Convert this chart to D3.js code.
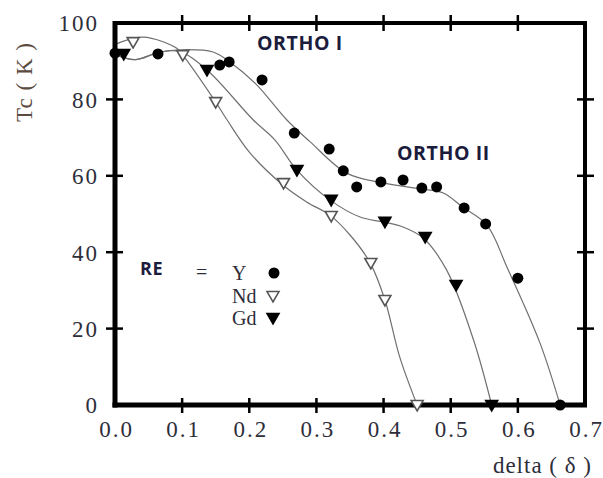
<!DOCTYPE html>
<html>
<head>
<meta charset="utf-8">
<script src="https://d3js.org/d3.v7.min.js"></script>
<style>
  body { margin: 0; background: #fff; }
  text.num { font-family: "Liberation Serif", serif; font-size: 23px; fill: #2e2e3a; letter-spacing: 2px; }
  text.ortho { font-family: "Open Sans", sans-serif; font-weight: bold; font-size: 19.5px; fill: #1c1c3c; letter-spacing: 0.6px; }
</style>
</head>
<body>
<svg width="603" height="478"></svg>
<script>
// measured points (delta, Tc)
const yDelta  = [0.0, 0.064, 0.156, 0.170, 0.219, 0.267, 0.319, 0.340, 0.360, 0.396, 0.429, 0.457, 0.479, 0.520, 0.552, 0.600, 0.663];
const yTc     = [92.1, 91.9, 89.0, 89.8, 85.1, 71.2, 67.0, 61.3, 57.1, 58.4, 58.9, 56.8, 57.1, 51.6, 47.4, 33.2, 0];
const ndDelta = [0.027, 0.101, 0.150, 0.251, 0.322, 0.381, 0.402, 0.450];
const ndTc    = [95.0, 91.6, 79.3, 58.1, 49.5, 37.2, 27.5, 0];
const gdDelta = [0.013, 0.137, 0.271, 0.322, 0.402, 0.462, 0.508, 0.561];
const gdTc    = [91.9, 87.7, 61.5, 53.7, 48.0, 44.0, 31.4, 0];

// fitted guide curves
const yFitDelta  = [0.0, 0.03, 0.065, 0.10, 0.146, 0.171, 0.21, 0.256, 0.29, 0.345, 0.40, 0.459, 0.489, 0.518, 0.554, 0.584, 0.633, 0.663];
const yFitTc     = [91.8, 90.4, 92.3, 93.0, 92.4, 89.8, 84.0, 74.6, 69.0, 60.7, 58.1, 56.5, 55.5, 51.8, 47.1, 36.0, 16.2, 0];
const ndFitDelta = [0.0, 0.042, 0.092, 0.101, 0.150, 0.167, 0.201, 0.25, 0.286, 0.32, 0.35, 0.38, 0.402, 0.424, 0.45];
const ndFitTc    = [94.4, 96.3, 93.4, 91.6, 79.3, 74.6, 66.0, 57.6, 53.1, 49.7, 44.5, 37.2, 27.5, 12.6, 0];
const gdFitDelta = [0.0, 0.03, 0.065, 0.095, 0.137, 0.206, 0.238, 0.271, 0.32, 0.365, 0.40, 0.429, 0.459, 0.494, 0.534, 0.561];
const gdFitTc    = [91.8, 90.4, 92.3, 92.6, 87.7, 74.6, 69.4, 61.5, 53.7, 49.2, 47.9, 46.6, 43.7, 35.3, 17.0, 0];

const xTicks = [0.0, 0.1, 0.2, 0.3, 0.4, 0.5, 0.6, 0.7];
const yTicks = [0, 20, 40, 60, 80, 100];
const legendNames = ["Y", "Nd", "Gd"];

const svg = d3.select("svg");
const pLeft = 115, pRight = 585, pTop = 23, pBottom = 405;

const x = d3.scaleLinear().domain([0, 0.7]).range([pLeft, pRight]);
const y = d3.scaleLinear().domain([0, 100]).range([pBottom, pTop]);

// guide curves
const line = d3.line().x(d => x(d[0])).y(d => y(d[1])).curve(d3.curveCatmullRom.alpha(0.5));
[[yFitDelta, yFitTc], [ndFitDelta, ndFitTc], [gdFitDelta, gdFitTc]].forEach(function(c) {
  svg.append("path")
    .attr("d", line(d3.zip(c[0], c[1])))
    .attr("fill", "none")
    .attr("stroke", "#707070")
    .attr("stroke-width", 1.2);
});

// axes - ticks cross the frame
const inner = xTicks.slice(1, -1);
const innerY = yTicks.slice(1, -1);

const xAxis = svg.append("g").attr("transform", "translate(1," + pBottom + ")")
  .call(d3.axisBottom(x).tickValues(xTicks).tickFormat(d3.format(".1f")).tickSize(0).tickPadding(16));
xAxis.select(".domain").remove();
xAxis.selectAll("text").attr("class", "num");
xAxis.attr("font-size", null).attr("font-family", null);

const yAxis = svg.append("g").attr("transform", "translate(" + pLeft + ",0)")
  .call(d3.axisLeft(y).tickValues(yTicks).tickSize(0).tickPadding(16));
yAxis.select(".domain").remove();
yAxis.selectAll("text").attr("class", "num").attr("dy", "0.34em");
yAxis.attr("font-size", null).attr("font-family", null);

const tickG = svg.append("g").attr("stroke", "#000").attr("stroke-width", 2.5);
inner.forEach(function(t) {
  tickG.append("line").attr("x1", x(t)).attr("x2", x(t)).attr("y1", pBottom - 7).attr("y2", pBottom + 8);
  tickG.append("line").attr("x1", x(t)).attr("x2", x(t)).attr("y1", pTop - 8).attr("y2", pTop + 8);
});
innerY.forEach(function(t) {
  tickG.append("line").attr("y1", y(t)).attr("y2", y(t)).attr("x1", pLeft - 9).attr("x2", pLeft + 8);
  tickG.append("line").attr("y1", y(t)).attr("y2", y(t)).attr("x1", pRight - 8).attr("x2", pRight + 9);
});

// frame
svg.append("line").attr("x1", pLeft).attr("x2", pRight + 2).attr("y1", pTop).attr("y2", pTop).attr("stroke", "#000").attr("stroke-width", 4);
svg.append("line").attr("x1", pRight).attr("x2", pRight).attr("y1", pTop - 2).attr("y2", pBottom + 2).attr("stroke", "#000").attr("stroke-width", 4);
svg.append("line").attr("x1", pLeft).attr("x2", pLeft).attr("y1", pTop - 2).attr("y2", pBottom + 2.5).attr("stroke", "#000").attr("stroke-width", 5);
svg.append("line").attr("x1", pLeft - 2.5).attr("x2", pRight + 2).attr("y1", pBottom).attr("y2", pBottom).attr("stroke", "#000").attr("stroke-width", 5);

// markers
const tri = d3.symbol().type(d3.symbolTriangle).size(62);
function circles(xs, ys) {
  svg.append("g").selectAll("circle").data(d3.zip(xs, ys)).join("circle")
    .attr("cx", d => x(d[0])).attr("cy", d => y(d[1])).attr("r", 5.5).attr("fill", "#000");
}
function triangles(xs, ys, filled) {
  svg.append("g").selectAll("path").data(d3.zip(xs, ys)).join("path")
    .attr("d", tri)
    .attr("transform", d => "translate(" + x(d[0]) + "," + (y(d[1]) - 1) + ") rotate(180)")
    .attr("fill", filled ? "#000" : "#fff")
    .attr("stroke", filled ? "#000" : "#555")
    .attr("stroke-width", 1.6);
}
circles(yDelta, yTc);
triangles(ndDelta, ndTc, false);
triangles(gdDelta, gdTc, true);

// labels
svg.append("text").attr("class", "num")
  .attr("transform", "translate(32,82) rotate(-90)")
  .attr("text-anchor", "middle")
  .style("fill", "#5a4a40").style("letter-spacing", "1px")
  .text("Tc ( K )");
svg.append("text").attr("class", "num")
  .attr("x", 592).attr("y", 473).attr("text-anchor", "end")
  .style("letter-spacing", "1px")
  .text("delta ( δ )");

svg.append("text").attr("class", "ortho").attr("x", 257).attr("y", 50).text("ORTHO I");
svg.append("text").attr("class", "ortho").attr("x", 397).attr("y", 160).text("ORTHO II");

// legend
svg.append("text").attr("class", "ortho").attr("x", 140).attr("y", 275).style("font-size", "18px").text("RE");
svg.append("text").attr("class", "num").attr("x", 196).attr("y", 279).style("font-size", "20px").text("=");
const legY = [273, 296, 318];
legendNames.forEach(function(n, i) {
  svg.append("text").attr("class", "num").attr("x", 232).attr("y", legY[i] + 7)
    .style("font-size", "20px").style("letter-spacing", "0px").text(n);
});
svg.append("circle").attr("cx", 274).attr("cy", legY[0]).attr("r", 5.5).attr("fill", "#000");
svg.append("path").attr("d", tri).attr("transform", "translate(273," + (legY[1] - 1) + ") rotate(180)")
  .attr("fill", "#fff").attr("stroke", "#555").attr("stroke-width", 1.6);
svg.append("path").attr("d", tri).attr("transform", "translate(273," + (legY[2] - 1) + ") rotate(180)")
  .attr("fill", "#000").attr("stroke", "#000").attr("stroke-width", 1.6);
</script>
</body>
</html>
